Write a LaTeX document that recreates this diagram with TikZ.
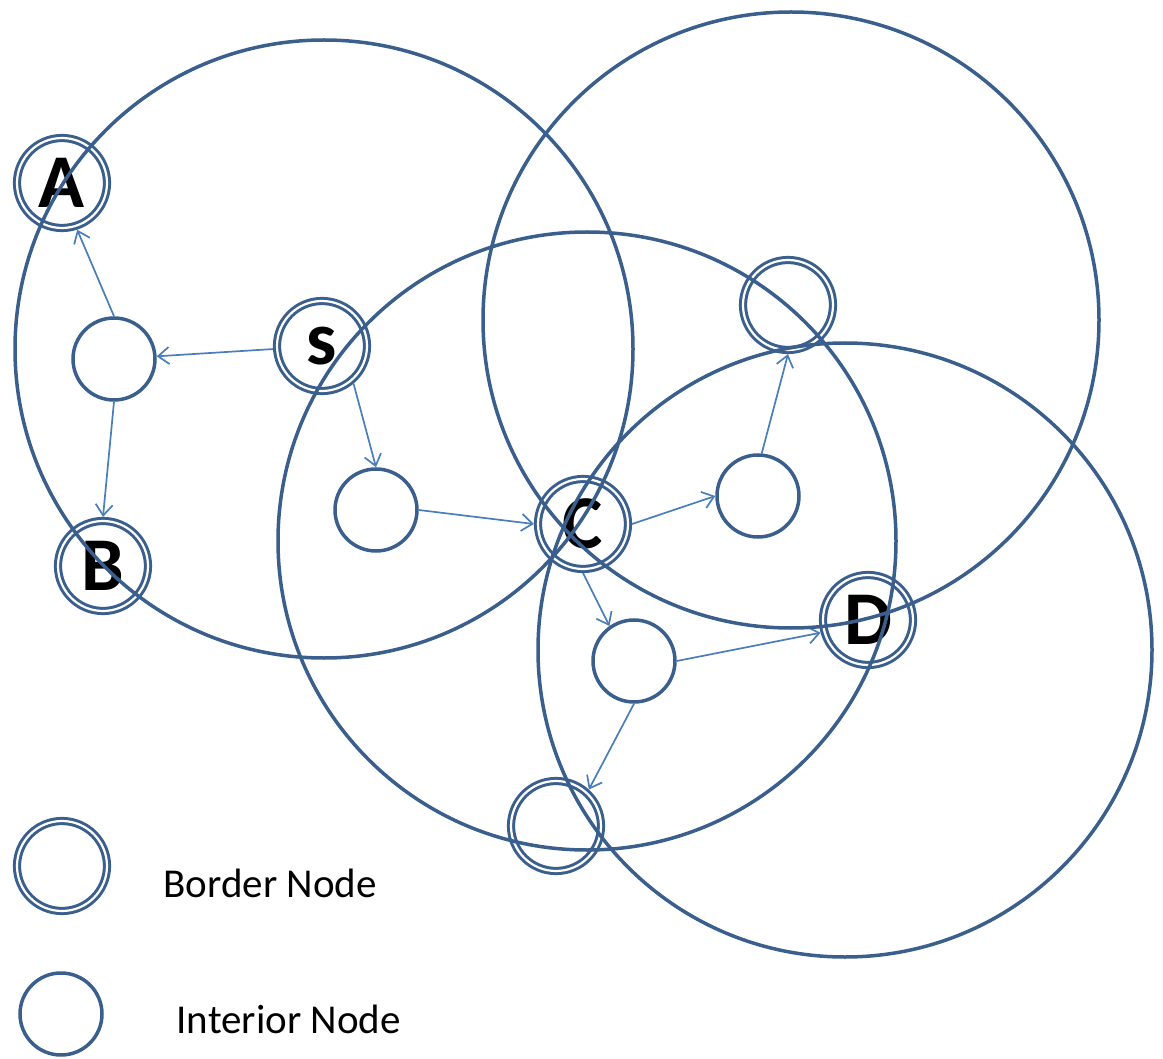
\documentclass[tikz,border=0pt]{standalone}
\usepackage{fontspec}
\setmainfont{Carlito}
\usetikzlibrary{arrows.meta}
\definecolor{ring}{HTML}{3A5F8D}
\definecolor{linkc}{HTML}{4A7EBB}
\begin{document}
\begin{tikzpicture}[x=1pt,y=-1pt,
  border/.style={circle, draw=ring, line width=3pt, double=white, double distance=2.2pt,
    minimum size=90pt, inner sep=0pt, outer sep=4.1pt,
    font=\fontsize{76}{76}\selectfont\bfseries},
  interior/.style={circle, draw=ring, line width=3.5pt, minimum size=82pt, inner sep=0pt},
  rangec/.style={draw=ring, line width=3.5pt},
  linkarrow/.style={draw=linkc, line width=1.7pt, -{Straight Barb[length=11pt,width=17pt]}},
  legendtext/.style={anchor=base west, font=\fontsize{41}{41}\selectfont}
]
\useasboundingbox (0,0) rectangle (1163,1059);

% border nodes
\node[border] (A)  at (62,183)  {A};
\node[border] (S)  at (322,346) {\raisebox{-5pt}{s}};
\node[border] (B)  at (103,566) {B};
\node[border] (C)  at (583,524) {C};
\node[border] (TR) at (788,305) {};
\node[border] (D)  at (868,620) {D};
\node[border] (BT) at (556,826) {};

% interior nodes
\node[interior] (I1) at (114,359) {};
\node[interior] (I2) at (376,510) {};
\node[interior] (I3) at (758,496) {};
\node[interior] (I4) at (634,661) {};

% connectors
\draw[linkarrow] (S) -- (I1);
\draw[linkarrow] (I1.north) -- (A.-72);
\draw[linkarrow] (I1.south) -- (B.north);
\draw[linkarrow] (S.-50) -- (I2.north);
\draw[linkarrow] (I2.east) -- (C.west);
\draw[linkarrow] (C.east) -- (I3.west);
\draw[linkarrow] (I3.85) -- (TR.south);
\draw[linkarrow] (C.south) -- (I4.125);
\draw[linkarrow] (I4.east) -- (D.195);
\draw[linkarrow] (I4.south) -- (BT.48);

% range circles
\draw[rangec] (324,349) circle[radius=309pt];
\draw[rangec] (791,320) circle[radius=308pt];
\draw[rangec] (587,541) circle[radius=309pt];
\draw[rangec] (845,650) circle[radius=307pt];

% legend
\node[border] (LB) at (62,866) {};
\node[interior] (LI) at (61,1014) {};
\node[legendtext] (LBT) at (160,897) {Border Node};
\node[legendtext] (LIT) at (173,1033) {Interior Node};
\end{tikzpicture}
\end{document}
